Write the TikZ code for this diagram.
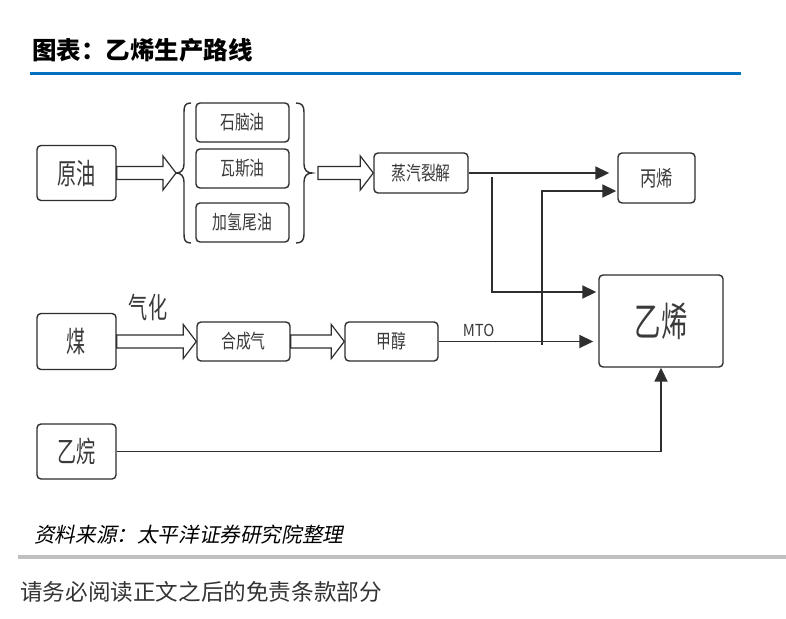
\documentclass[tikz,border=0pt]{standalone}
\usepackage{fontspec}
\usetikzlibrary{arrows.meta,calc}
\setmainfont{Noto Sans CJK SC}
\newfontfamily\tallfont[FakeStretch=0.66]{Noto Sans CJK SC}
\newfontfamily\narrowfont[FakeStretch=0.76]{Noto Sans CJK SC}
\newfontfamily\latinfont[FakeStretch=0.9]{Noto Sans CJK SC}
\newfontfamily\slantfont[FakeSlant=0.2]{Noto Sans CJK SC}
\newfontfamily\plainfont{Noto Sans CJK SC}
\definecolor{boxline}{HTML}{2E2E2E}
\definecolor{boxtext}{HTML}{3A3A3A}
\definecolor{rulelblue}{RGB}{0,112,192}
\definecolor{rulegray}{RGB}{192,192,192}

\begin{document}
\begin{tikzpicture}[x=1pt,y=-1pt,
  box/.style={draw=boxline, line width=1.4pt, rounded corners=4pt, fill=white,
    inner sep=0pt, text=boxtext},
  smallbox/.style={box, minimum width=93pt, minimum height=39pt,
    font=\narrowfont\fontsize{19.5}{19.5}\selectfont},
  srcbox/.style={box, minimum width=79pt, minimum height=55pt,
    font=\tallfont\fontsize{29}{29}\selectfont},
  flow/.style={draw=boxline, line width=1.8pt,
    -{Triangle[length=14pt,width=13pt]}},
  bracepath/.style={draw=boxline, line width=1.4pt},
  hollow/.style={draw=boxline, line width=1.2pt, fill=white, line join=miter,
    to path={let \p1=(\tikztostart), \p2=(\tikztotarget) in
      (\x1,{\y1+6.5pt}) -- ({\x2-13pt},{\y1+6.5pt}) -- ({\x2-13pt},{\y1+17pt})
      -- (\x2,\y1) -- ({\x2-13pt},{\y1-17pt}) -- ({\x2-13pt},{\y1-6.5pt})
      -- (\x1,{\y1-6.5pt}) -- cycle}}]
\useasboundingbox (0,0) rectangle (786,618);

% heading and rule
\node[anchor=west, inner sep=0pt, font=\plainfont\bfseries\fontsize{24.5}{24.5}\selectfont]
  (title) at (32,50) {图表：乙烯生产路线};
\draw[rulelblue, line width=3pt] (30,73) -- (741,73);

% feedstocks
\node[srcbox] (crude) at (76.5,173) {原油};
\node[srcbox, minimum height=56pt] (coal) at (76.5,341.5) {煤};
\node[srcbox] (ethane) at (76.5,451.5) {乙烷};

% crude oil fractions
\node[smallbox] (naphtha) at (242.5,122.5) {石脑油};
\node[smallbox] (gasoil) at (242.5,168.5) {瓦斯油};
\node[smallbox] (hydro) at (242.5,222.5) {加氢尾油};

% process steps
\node[smallbox, minimum width=94pt, minimum height=40pt] (cracker) at (421,173) {蒸汽裂解};
\node[smallbox] (syngas) at (243.5,341.5) {合成气};
\node[smallbox] (methanol) at (391.5,341.5) {甲醇};

% products
\node[box, minimum width=77pt, minimum height=50pt,
  font=\narrowfont\fontsize{21.5}{21.5}\selectfont] (propylene) at (656.5,178) {丙烯};
\node[box, minimum width=124pt, minimum height=92pt,
  font=\tallfont\fontsize{40}{40}\selectfont] (ethylene) at (661,321) {乙烯};

% braces around the fractions
\coordinate (lbtip) at (176,173);
\coordinate (rbtip) at (318,173);
\draw[bracepath] (191,103) .. controls (185,103) and (184,106) .. (184,112)
  -- (184,164) .. controls (184,170) and (181,173) .. (lbtip)
  .. controls (181,173) and (184,176) .. (184,182)
  -- (184,234) .. controls (184,240) and (185,243) .. (191,243);
\draw[bracepath] (296,103) .. controls (302,103) and (304,106) .. (304,112)
  -- (304,164) .. controls (304,170) and (307,173) .. (312,173)
  .. controls (307,173) and (304,176) .. (304,182)
  -- (304,234) .. controls (304,240) and (302,243) .. (296,243);

% block arrows
\draw[hollow] (crude.east) to (lbtip);
\draw[hollow] (rbtip) to (cracker.west);
\draw[hollow] (coal.east) to (syngas.west);
\draw[hollow] (syngas.east) to (methanol.west);
\node[font=\tallfont\fontsize{29}{29}\selectfont, text=boxtext] (gasify) at (148,307) {气化};

% product lines
\coordinate (split) at (492,177);
\coordinate (mtojoin) at (542,345);
\draw[flow, shorten >=8pt] (cracker.east) -- ([yshift=5pt]propylene.west);
\draw[flow, shorten >=2pt] (split) |- ([yshift=29pt]ethylene.west);
\draw[flow, shorten >=5pt] (methanol.east) -- (methanol.east -| ethylene.west)
  node[pos=0.25, above=1pt, font=\latinfont\fontsize{16.5}{16.5}\selectfont, text=boxtext] (mto) {MTO};
\draw[flow, shorten >=1pt] (mtojoin) |- ([yshift=-13pt]propylene.west);
\draw[flow] (ethane.east) -| (ethylene.south);

% source note and footer
\node[anchor=west, inner sep=0pt, font=\slantfont\fontsize{20.6}{20.6}\selectfont]
  (source) at (34,535) {资料来源：太平洋证券研究院整理};
\draw[rulegray, line width=4.5pt] (18,557) -- (786,557);
\node[anchor=west, inner sep=0pt, text=black!80, font=\plainfont\fontsize{22.6}{22.6}\selectfont]
  (footer) at (20,592) {请务必阅读正文之后的免责条款部分};
\end{tikzpicture}
\end{document}
